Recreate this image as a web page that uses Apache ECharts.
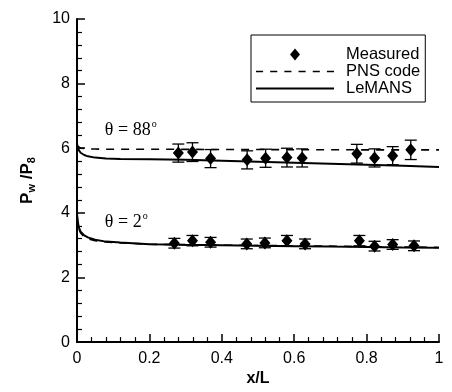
<!DOCTYPE html>
<html><head><meta charset="utf-8">
<script src="https://cdn.jsdelivr.net/npm/echarts@6/dist/echarts.min.js"></script>
<style>html,body{margin:0;padding:0;background:#fff}#c{width:452px;height:392px}</style>
</head><body><div id="c"></div>
<script>
// ---- data ----
const xTicks = [0, 0.2, 0.4, 0.6, 0.8, 1];
const yTicks = [0, 2, 4, 6, 8, 10];

const measX88 = [0.280, 0.319, 0.369, 0.470, 0.521, 0.580, 0.622, 0.773, 0.822, 0.872, 0.922];
const measY88 = [5.85, 5.88, 5.68, 5.64, 5.69, 5.71, 5.70, 5.83, 5.70, 5.77, 5.95];
const err88   = [0.28, 0.29, 0.28, 0.28, 0.28, 0.29, 0.28, 0.29, 0.28, 0.28, 0.30];

const measX2 = [0.269, 0.319, 0.369, 0.469, 0.519, 0.580, 0.630, 0.780, 0.822, 0.872, 0.931];
const measY2 = [3.06, 3.14, 3.09, 3.04, 3.07, 3.14, 3.04, 3.14, 2.97, 3.02, 2.98];
const err2   = [0.15, 0.16, 0.15, 0.15, 0.15, 0.16, 0.15, 0.16, 0.15, 0.15, 0.15];

const curveX     = [0, 0.002, 0.005, 0.01, 0.02, 0.03, 0.05, 0.08, 0.12, 0.2, 0.3, 0.4, 0.5, 0.6, 0.7, 0.8, 0.9, 1.0];
const lemans88   = [6.15, 6.02, 5.94, 5.86, 5.79, 5.75, 5.71, 5.68, 5.67, 5.66, 5.64, 5.61, 5.58, 5.55, 5.52, 5.49, 5.455, 5.42];
const pns88      = [6.08, 6.05, 6.02, 6.00, 5.99, 5.98, 5.975, 5.97, 5.97, 5.97, 5.965, 5.96, 5.96, 5.955, 5.955, 5.95, 5.95, 5.95];
const lemans2    = [3.97, 3.75, 3.55, 3.42, 3.30, 3.24, 3.17, 3.11, 3.08, 3.03, 3.01, 2.995, 2.98, 2.97, 2.955, 2.945, 2.93, 2.92];
const pns2       = [3.95, 3.70, 3.50, 3.38, 3.26, 3.20, 3.14, 3.10, 3.07, 3.03, 3.01, 3.0, 2.99, 2.98, 2.97, 2.955, 2.945, 2.93];

const annotX = [0.077, 0.077];
const annotY = [6.55, 3.72];
const annotText = ['88', '2'];

const legendNames = ['Measured', 'PNS code', 'LeMANS'];

// ---- chart ----
const zip = (xs, ys) => xs.map((x, i) => [x, ys[i]]);
const bars = (xs, ys, es) => xs.map((x, i) => [x, ys[i] - es[i], ys[i] + es[i]]);

const chart = echarts.init(document.getElementById('c'), null, {renderer: 'canvas'});
const axisFont = {fontFamily: 'Liberation Sans', fontSize: 16, color: '#000'};

function errRender(params, api) {
  const x = api.value(0), lo = api.value(1), hi = api.value(2);
  const t = api.coord([x, hi]), b = api.coord([x, lo]);
  const w = 6, st = {stroke: '#000', lineWidth: 1.3};
  return {type: 'group', children: [
    {type: 'line', shape: {x1: t[0], y1: t[1], x2: b[0], y2: b[1]}, style: st},
    {type: 'line', shape: {x1: t[0] - w, y1: t[1], x2: t[0] + w, y2: t[1]}, style: st},
    {type: 'line', shape: {x1: b[0] - w, y1: b[1], x2: b[0] + w, y2: b[1]}, style: st}
  ]};
}

// legend icons (keep-aspect paths)
const diamondIcon = 'path://M5,0L10,6L5,12L0,6Z';
const solidIcon = 'path://M0,0h77v2h-77z';
const dashIcon = 'path://M0,0h7v1.6h-7zM14,0h7v1.6h-7zM28,0h7v1.6h-7zM42,0h7v1.6h-7zM56,0h7v1.6h-7zM70,0h7v1.6h-7z';

const lineBase = {type: 'line', symbol: 'none', smooth: false, silent: true, animation: false, z: 3};
const markStyle = {color: '#000', opacity: 1};

chart.setOption({
  animation: false,
  backgroundColor: '#fff',
  grid: {left: 77, right: 13, top: 19, bottom: 43},
  legend: {
    data: [
      {name: legendNames[0], icon: diamondIcon, itemStyle: markStyle},
      {name: legendNames[1], icon: dashIcon, itemStyle: markStyle},
      {name: legendNames[2], icon: solidIcon, itemStyle: markStyle}
    ],
    symbolKeepAspect: true,
    orient: 'vertical',
    left: 251, top: 35,
    padding: [11, 5, 5, 5],
    itemGap: 0,
    itemWidth: 78, itemHeight: 12,
    borderColor: '#000', borderWidth: 1,
    textStyle: {fontFamily: 'Liberation Sans', fontSize: 16.5, lineHeight: 15.5, color: '#000', padding: [0, 0, 0, 7]},
    selectedMode: false
  },
  xAxis: {
    type: 'value', min: 0, max: 1, interval: 0.2,
    name: 'x/L', nameLocation: 'middle', nameGap: 28,
    nameTextStyle: {fontFamily: 'Liberation Sans', fontSize: 16, fontWeight: 'bold', color: '#000'},
    axisLine: {show: true, onZero: false, lineStyle: {color: '#000', width: 2}},
    axisTick: {show: true, inside: true, length: 8, lineStyle: {color: '#000', width: 1.5}},
    minorTick: {show: true, splitNumber: 5, length: 5, lineStyle: {color: '#000', width: 1.2}},
    axisLabel: Object.assign({margin: 8}, axisFont),
    splitLine: {show: false}
  },
  yAxis: {
    type: 'value', min: 0, max: 10, interval: 2,
    name: '{p|P}{s|w}{p| /P}{s|8}', nameLocation: 'middle', nameGap: 40, nameRotate: 90,
    nameTextStyle: {
      rich: {
        p: {fontFamily: 'Liberation Sans', fontSize: 17, fontWeight: 'bold', color: '#000'},
        s: {fontFamily: 'Liberation Sans', fontSize: 11, fontWeight: 'bold', color: '#000', padding: [9, 0, 0, 0]}
      }
    },
    axisLine: {show: true, onZero: false, lineStyle: {color: '#000', width: 2}},
    axisTick: {show: true, inside: true, length: 8, lineStyle: {color: '#000', width: 1.5}},
    minorTick: {show: true, splitNumber: 5, length: 5, lineStyle: {color: '#000', width: 1.2}},
    axisLabel: Object.assign({margin: 7}, axisFont),
    splitLine: {show: false}
  },
  series: [
    Object.assign({}, lineBase, {name: 'PNS code', data: zip(curveX, pns88), lineStyle: {color: '#000', width: 1.6, type: [8, 7]}, itemStyle: markStyle}),
    Object.assign({}, lineBase, {name: 'PNS code', data: zip(curveX, pns2), lineStyle: {color: '#000', width: 1.6, type: [8, 7]}, itemStyle: markStyle}),
    Object.assign({}, lineBase, {name: 'LeMANS', data: zip(curveX, lemans88), lineStyle: {color: '#000', width: 2}, itemStyle: markStyle}),
    Object.assign({}, lineBase, {name: 'LeMANS', data: zip(curveX, lemans2), lineStyle: {color: '#000', width: 2}, itemStyle: markStyle}),
    {type: 'custom', name: 'err88', renderItem: errRender, data: bars(measX88, measY88, err88), encode: {x: 0, y: [1, 2]}, z: 4, silent: true},
    {type: 'custom', name: 'err2', renderItem: errRender, data: bars(measX2, measY2, err2), encode: {x: 0, y: [1, 2]}, z: 4, silent: true},
    {type: 'scatter', name: 'Measured', symbol: 'diamond', symbolSize: [11, 13], data: zip(measX88, measY88), itemStyle: markStyle, z: 5, silent: true},
    {type: 'scatter', name: 'Measured', symbol: 'diamond', symbolSize: [11, 13], data: zip(measX2, measY2), itemStyle: markStyle, z: 5, silent: true}
  ]
});

// annotations placed through the chart's own coordinate conversion
const gfx = annotX.map((x, i) => {
  const p = chart.convertToPixel({gridIndex: 0}, [x, annotY[i]]);
  return {
    type: 'text', x: p[0], y: p[1], z: 10,
    style: {
      text: '{t|\u03b8 = ' + annotText[i] + '}{o|o}',
      verticalAlign: 'middle', align: 'left',
      rich: {
        t: {fontFamily: 'Liberation Serif', fontSize: 18, color: '#000'},
        o: {fontFamily: 'Liberation Serif', fontSize: 10, color: '#000', padding: [0, 0, 12, 1]}
      }
    }
  };
});
chart.setOption({graphic: gfx});
</script>
</body></html>
